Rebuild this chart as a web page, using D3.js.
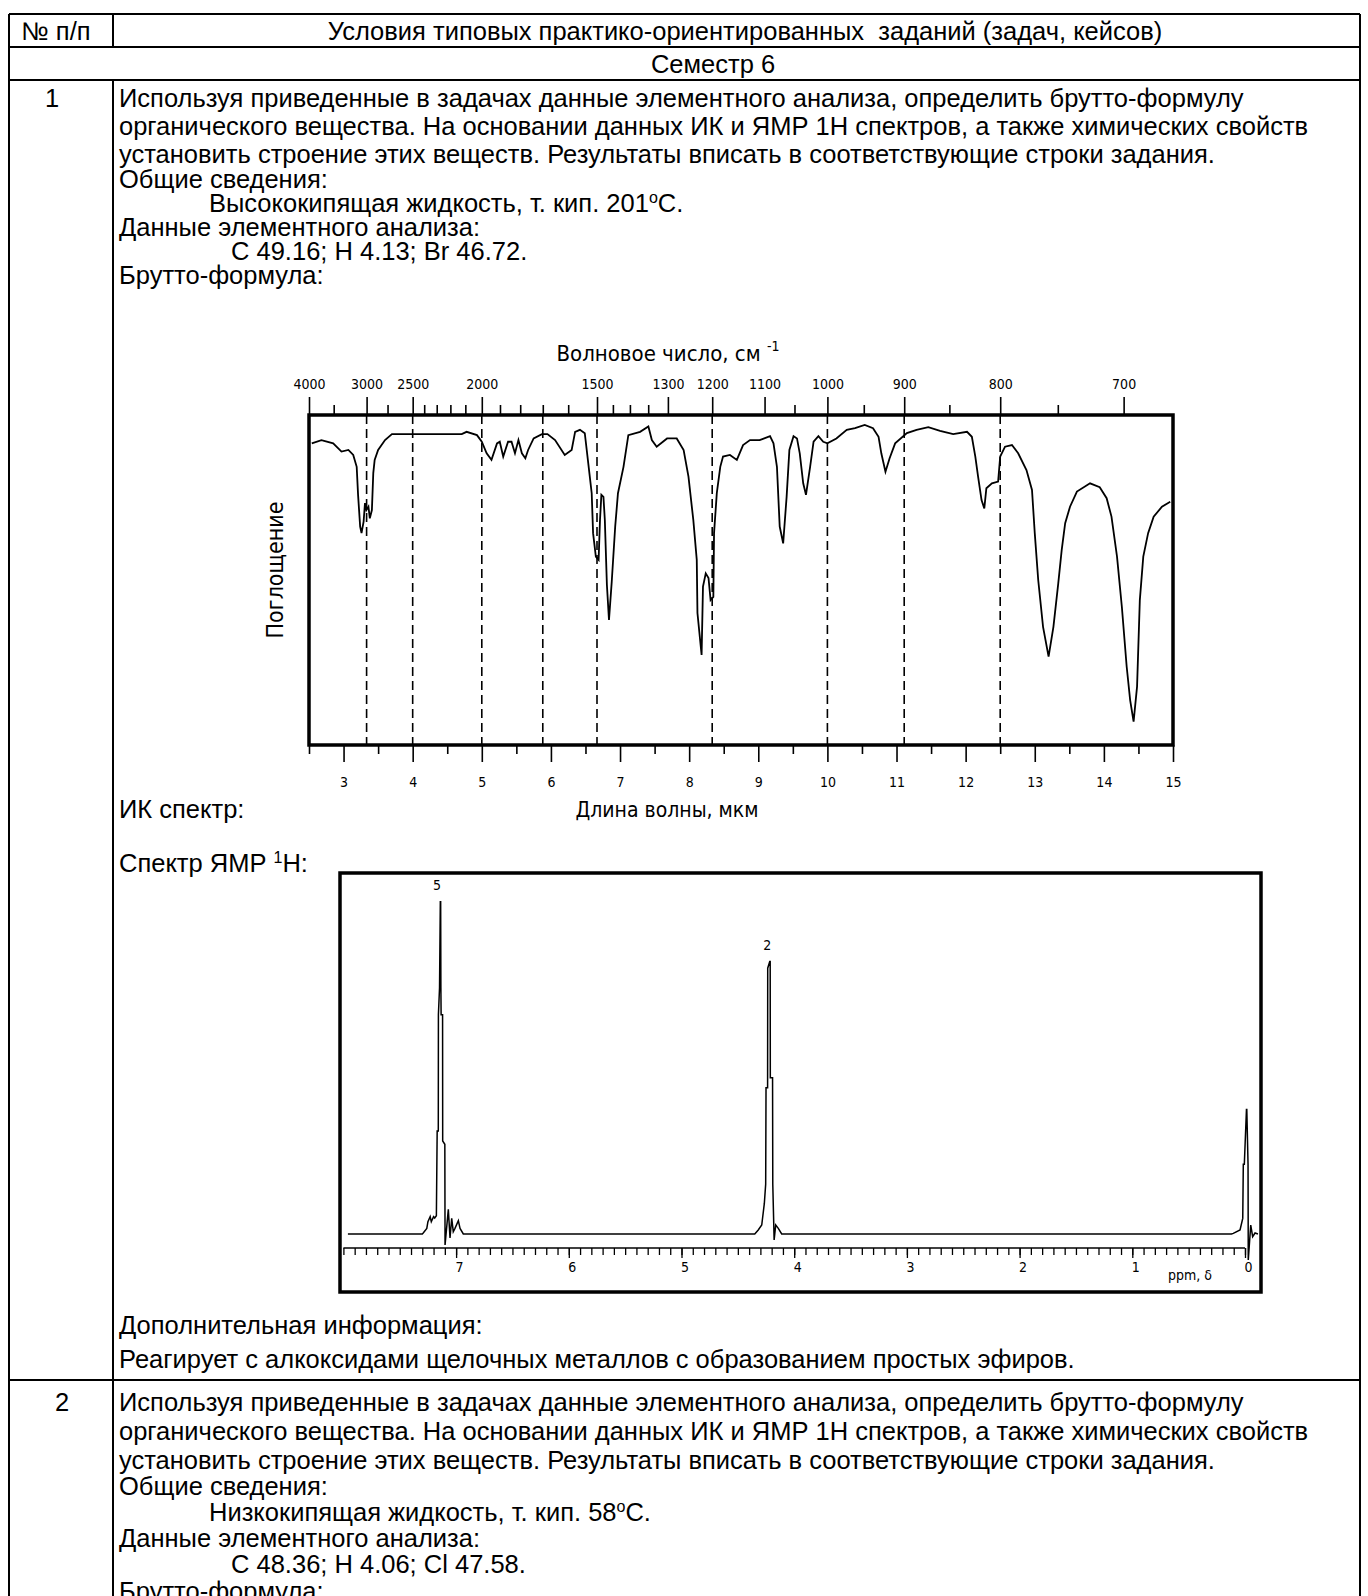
<!DOCTYPE html>
<html>
<head>
<meta charset="utf-8">
<script src="https://cdn.jsdelivr.net/npm/d3@7"></script>
<style>
  body { margin: 0; background: #fff; }
  .doc text { font-family: "Liberation Sans", Arial, sans-serif; font-size: 25.5px; fill: #000; }
  .plot text { font-family: "Liberation Sans Narrow", "DejaVu Sans Condensed", "Arial Narrow", sans-serif; fill: #000; }
</style>
</head>
<body>
<div id="page"></div>
<script>
// ---------- texts ----------
var headerText = ["№ п/п", "Условия типовых практико-ориентированных  заданий (задач, кейсов)"];
var semesterText = "Семестр 6";
var taskNumbers = ["1", "2"];
var task1Lines = [
  "Используя приведенные в задачах данные элементного анализа, определить брутто-формулу",
  "органического вещества. На основании данных ИК и ЯМР 1Н спектров, а также химических свойств",
  "установить строение этих веществ. Результаты вписать в соответствующие строки задания.",
  "Общие сведения:",
  "Высококипящая жидкость, т. кип. 201|o|С.",
  "Данные элементного анализа:",
  "С 49.16; Н 4.13; Br 46.72.",
  "Брутто-формула:"
];
var task1Tail = ["Дополнительная информация:",
  "Реагирует с алкоксидами щелочных металлов с образованием простых эфиров."];
var task2Lines = [
  "Используя приведенные в задачах данные элементного анализа, определить брутто-формулу",
  "органического вещества. На основании данных ИК и ЯМР 1Н спектров, а также химических свойств",
  "установить строение этих веществ. Результаты вписать в соответствующие строки задания.",
  "Общие сведения:",
  "Низкокипящая жидкость, т. кип. 58|o|С.",
  "Данные элементного анализа:",
  "С 48.36; Н 4.06; Cl 47.58.",
  "Брутто-формула:"
];
var lineIndent = [0, 0, 0, 0, 1, 0, 2, 0];

// ---------- IR spectrum (wavelength, µm ; transmittance, %) ----------
var irWavelength = [2.54,2.68,2.85,2.97,3.07,3.14,3.19,3.21,3.24,3.26,
  3.29,3.31,3.33,3.36,3.38,3.41,3.43,3.45,3.50,3.60,
  3.70,4.71,4.78,4.93,5.00,5.07,5.14,5.22,5.26,5.31,
  5.38,5.43,5.48,5.53,5.58,5.63,5.67,5.75,5.87,5.95,
  6.06,6.20,6.30,6.35,6.42,6.49,6.54,6.59,6.61,6.65,
  6.69,6.71,6.73,6.76,6.78,6.81,6.84,6.88,6.93,6.97,
  7.05,7.12,7.29,7.41,7.46,7.53,7.68,7.82,7.92,7.99,
  8.06,8.11,8.12,8.18,8.20,8.24,8.28,8.31,8.35,8.36,
  8.40,8.45,8.49,8.59,8.69,8.78,8.88,9.02,9.17,9.22,
  9.27,9.31,9.36,9.41,9.45,9.51,9.56,9.60,9.65,9.69,
  9.75,9.80,9.87,9.94,10.00,10.13,10.28,10.40,10.54,10.66,
  10.74,10.78,10.84,10.90,10.98,11.15,11.29,11.46,11.63,11.82,
  12.02,12.09,12.14,12.18,12.23,12.27,12.30,12.38,12.47,12.50,
  12.57,12.67,12.76,12.88,12.96,13.00,13.05,13.12,13.20,13.27,
  13.34,13.39,13.44,13.51,13.61,13.80,13.94,14.04,14.11,14.19,
  14.26,14.33,14.38,14.43,14.48,14.52,14.57,14.64,14.72,14.84,14.96];
var irTransmittance = [91.4,92.4,91.4,88.9,89.4,87.9,84.3,75.8,66.2,64.2,
  67.7,73.3,71.2,72.2,68.7,71.2,82.4,86.4,89.4,92.4,
  94.2,94.2,94.9,93.9,91.9,88.4,86.4,91.4,91.9,87.4,
  91.9,91.9,88.4,92.4,88.4,86.9,89.4,92.9,94.2,94.2,
  92.4,87.9,89.4,94.9,95.5,94.5,85.4,76.3,64.2,57.1,
  56.1,68.2,75.8,75.2,68.2,48.5,37.9,49.5,66.2,76.3,
  84.3,93.9,94.9,96.5,92.4,90.4,92.9,92.9,89.4,81.3,
  68.2,56.1,40.0,27.3,48.0,52.0,50.6,43.9,44.9,64.2,
  76.3,84.3,87.4,87.9,86.4,90.9,92.4,92.4,93.6,91.4,
  84.3,66.2,61.1,75.2,89.4,93.6,92.9,88.4,79.3,75.8,
  84.3,91.9,93.6,91.9,91.4,92.9,95.5,96.0,97.0,96.0,
  93.4,88.4,82.8,86.9,91.4,94.5,95.5,96.3,95.2,94.2,
  94.9,93.4,87.4,81.3,74.2,71.7,77.8,79.3,79.8,87.4,
  90.4,90.9,88.4,83.3,77.3,64.2,50.0,35.8,26.8,35.8,
  49.0,59.1,67.2,72.2,76.8,79.3,78.1,74.8,69.2,57.1,
  41.9,23.7,13.6,7.1,17.7,43.9,57.1,64.2,69.2,72.2,73.7];

var irWaveMajor = [4000, 3000, 2500, 2000, 1500, 1300, 1200, 1100, 1000, 900, 800, 700];
var irWaveMinor = [3500, 2750, 2400, 2300, 2200, 2100, 1900, 1800, 1700, 1600, 1450, 1400, 1350, 1050, 950, 850, 750];
var irDashed = [3000, 2500, 2000, 1700, 1500, 1200, 1000, 900, 800];
var irMicronLabels = [3, 4, 5, 6, 7, 8, 9, 10, 11, 12, 13, 14, 15];
var irMicronHalf = [2.5, 3.5, 4.5, 5.5, 6.5, 7.5, 8.5, 9.5, 10.5, 11.5, 12.5, 13.5, 14.5];

// ---------- 1H NMR spectrum (ppm ; intensity, % of tallest peak) ----------
var nmrPpm = [7.96,7.30,7.29,7.26,7.25,7.23,7.22,7.20,7.19,7.175,7.168,7.158,7.157,7.147,7.140,7.137,7.135,7.133,7.120,7.119,7.100,
  7.098,7.069,7.054,7.039,7.025,7.010,6.980,6.965,6.936,
  4.35,4.319,4.288,4.265,4.253,4.250,4.236,4.235,4.217,4.213,4.212,4.192,4.190,4.178,4.164,4.141,4.111,
  0.12,0.104,0.044,0.020,0.015,0.006,-0.013,-0.016,-0.027,-0.029,-0.051,-0.068,-0.089,-0.115];
var nmrIntensity = [0,0,0.4,1.7,3.7,5.2,3.7,5.2,4.8,5.5,31,31,66,74,100,100,74,66,66,28,27,
  -3.3,7.4,-1.2,4.7,0.7,1.7,4.0,1.7,0,
  0,1.2,2.7,9.2,15,44,44,80,82,82,47,47,15,-1.8,2.7,1.7,0,
  0,0.2,1.2,4.7,21,21,37.5,37.5,21,-7.8,2.7,-0.8,0.3,0];
var nmrLabelPpm = [7.17, 4.24];
var nmrLabelHeight = [100, 82];
var nmrLabelText = ["5", "2"];
var nmrAxisLabels = [0, 1, 2, 3, 4, 5, 6, 7];

// ---------- page ----------
var W = 1368, H = 1596;
var svg = d3.select("#page").append("svg").attr("width", W).attr("height", H);
svg.append("rect").attr("width", W).attr("height", H).attr("fill", "#fff");

var tab = {left: 9, right: 1360, col: 113, top: 14, head: 47, sem: 80, row2: 1380};
var textLeft = 119, indentX = [119, 209, 231];
var row1Y = [98, 126, 154, 179, 203, 227, 251, 275];
var row2Y = [1402, 1431, 1460, 1486, 1512, 1538, 1564, 1591];
var base = 9;

var doc = svg.append("g").attr("class", "doc");
var frame = doc.append("g").attr("stroke", "#000").attr("stroke-width", 1.4).attr("shape-rendering", "crispEdges");
[tab.top, tab.head, tab.sem, tab.row2].forEach(function(y) {
  frame.append("line").attr("x1", tab.left).attr("x2", tab.right).attr("y1", y).attr("y2", y);
});
[[tab.left, tab.top, H], [tab.right, tab.top, H], [tab.col, tab.top, tab.head], [tab.col, tab.sem, H]].forEach(function(v) {
  frame.append("line").attr("x1", v[0]).attr("x2", v[0]).attr("y1", v[1]).attr("y2", v[2]);
});

function putText(sel, str, x, y, anchor) {
  var t = sel.append("text").attr("x", x).attr("y", y + base).attr("text-anchor", anchor || "start")
    .attr("xml:space", "preserve");
  str.split("|").forEach(function(part, i) {
    if (i % 2 === 1) {
      t.append("tspan").attr("font-size", "16px").attr("dy", -9).text(part);
    } else {
      t.append("tspan").attr("dy", i ? 9 : 0).text(part);
    }
  });
  return t;
}

putText(doc, headerText[0], 56, 30.5, "middle");
putText(doc, headerText[1], 745, 30.5, "middle");
putText(doc, semesterText, 713, 63.5, "middle");

putText(doc, taskNumbers[0], 52, row1Y[0], "middle");
task1Lines.forEach(function(s, i) { putText(doc, s, indentX[lineIndent[i]], row1Y[i]); });
putText(doc, "ИК спектр:", textLeft, 809);
putText(doc, "Спектр ЯМР |1|H:", textLeft, 863);
putText(doc, task1Tail[0], textLeft, 1325);
putText(doc, task1Tail[1], textLeft, 1359);

putText(doc, taskNumbers[1], 62, row2Y[0], "middle");
task2Lines.forEach(function(s, i) { putText(doc, s, indentX[lineIndent[i]], row2Y[i]); });

// ---------- IR chart ----------
var ir = {left: 309, right: 1173, top: 415, bottom: 745};
var xIr = d3.scaleLinear().domain([2.5, 15]).range([ir.left, ir.right]);
var yIr = d3.scaleLinear().domain([0, 100]).range([ir.bottom, ir.top]);
var irG = svg.append("g").attr("class", "plot");

irG.selectAll("line.dash").data(irDashed).enter().append("line")
  .attr("class", "dash")
  .attr("x1", function(d) { return xIr(1e4 / d); }).attr("x2", function(d) { return xIr(1e4 / d); })
  .attr("y1", ir.top).attr("y2", ir.bottom)
  .attr("stroke", "#000").attr("stroke-width", 1.6).attr("stroke-dasharray", "9,5");

var irPoints = irWavelength.map(function(d, i) { return [d, irTransmittance[i]]; });
irG.append("path").datum(irPoints)
  .attr("fill", "none").attr("stroke", "#000").attr("stroke-width", 1.8)
  .attr("d", d3.line().x(function(d) { return xIr(d[0]); }).y(function(d) { return yIr(d[1]); }));

irG.append("rect").attr("x", ir.left).attr("y", ir.top)
  .attr("width", ir.right - ir.left).attr("height", ir.bottom - ir.top)
  .attr("fill", "none").attr("stroke", "#000").attr("stroke-width", 3.5);

var topMinor = irG.append("g").attr("transform", "translate(0," + ir.top + ")")
  .call(d3.axisTop(xIr).tickValues(irWaveMinor.map(function(d) { return 1e4 / d; })).tickSize(10).tickFormat(""));
var topMajor = irG.append("g").attr("transform", "translate(0," + ir.top + ")")
  .call(d3.axisTop(xIr).tickValues(irWaveMajor.map(function(d) { return 1e4 / d; }))
    .tickSize(18).tickPadding(8).tickFormat(function(d) { return Math.round(1e4 / d); }));
var botMinor = irG.append("g").attr("transform", "translate(0," + ir.bottom + ")")
  .call(d3.axisBottom(xIr).tickValues(irMicronHalf).tickSize(9).tickFormat(""));
var botMajor = irG.append("g").attr("transform", "translate(0," + ir.bottom + ")")
  .call(d3.axisBottom(xIr).tickValues(irMicronLabels).tickSize(17).tickPadding(15));
[topMinor, topMajor, botMinor, botMajor].forEach(function(a) {
  a.select(".domain").remove();
  a.selectAll("line").attr("stroke", "#000").attr("stroke-width", 1.6);
  a.selectAll("text").attr("font-size", "14px").attr("fill", "#000")
    .attr("font-family", "'Liberation Sans Narrow','DejaVu Sans Condensed',sans-serif");
});

var t1 = irG.append("text").attr("x", 668).attr("y", 361).attr("text-anchor", "middle").attr("font-size", "22px");
t1.append("tspan").text("Волновое число, см ");
t1.append("tspan").attr("font-size", "14px").attr("dy", -10).text("-1");
irG.append("text").attr("x", 667).attr("y", 817).attr("text-anchor", "middle").attr("font-size", "21px")
  .text("Длина волны, мкм");
irG.append("text").attr("transform", "translate(283,570) rotate(-90)").attr("text-anchor", "middle")
  .attr("font-size", "23px").text("Поглощение");

// ---------- NMR chart ----------
var nmr = {left: 340, right: 1261, top: 873, bottom: 1292, axis: 1248, base: 1234, peak: 901.7};
var xN = d3.scaleLinear().domain([8.0, -0.142]).range([343.4, nmr.right]);
var yN = d3.scaleLinear().domain([0, 100]).range([nmr.base, nmr.peak]);
var nG = svg.append("g").attr("class", "plot");

var nmrPoints = nmrPpm.map(function(d, i) { return [d, nmrIntensity[i]]; });
nG.append("path").datum(nmrPoints)
  .attr("fill", "none").attr("stroke", "#000").attr("stroke-width", 1.5)
  .attr("d", d3.line().x(function(d) { return xN(d[0]); }).y(function(d) { return yN(d[1]); }));

nG.append("line").attr("x1", xN(8)).attr("x2", xN(0)).attr("y1", nmr.axis).attr("y2", nmr.axis)
  .attr("stroke", "#000").attr("stroke-width", 1.5);
var nMinor = nG.append("g").attr("transform", "translate(0," + nmr.axis + ")")
  .call(d3.axisBottom(xN).tickValues(d3.range(0, 81).map(function(i) { return i / 10; })).tickSize(7).tickFormat(""));
var nMajor = nG.append("g").attr("transform", "translate(0," + nmr.axis + ")")
  .call(d3.axisBottom(xN).tickValues(nmrAxisLabels).tickSize(10).tickPadding(4).tickFormat(d3.format("d")));
[nMinor, nMajor].forEach(function(a) {
  a.select(".domain").remove();
  a.selectAll("line").attr("stroke", "#000").attr("stroke-width", 1.3);
  a.selectAll("text").attr("font-size", "14px").attr("fill", "#000").attr("dx", 3)
    .attr("font-family", "'Liberation Sans Narrow','DejaVu Sans Condensed',sans-serif");
});
nG.append("text").attr("x", 1190).attr("y", 1280).attr("text-anchor", "middle").attr("font-size", "14px").text("ppm, δ");

nG.selectAll("text.integral").data(nmrLabelText).enter().append("text")
  .attr("class", "integral")
  .attr("x", function(d, i) { return xN(nmrLabelPpm[i]); })
  .attr("y", function(d, i) { return yN(nmrLabelHeight[i]) - 12; })
  .attr("text-anchor", "middle").attr("font-size", "14px").text(function(d) { return d; });

nG.append("rect").attr("x", nmr.left).attr("y", nmr.top)
  .attr("width", nmr.right - nmr.left).attr("height", nmr.bottom - nmr.top)
  .attr("fill", "none").attr("stroke", "#000").attr("stroke-width", 3.5);
</script>
</body>
</html>
